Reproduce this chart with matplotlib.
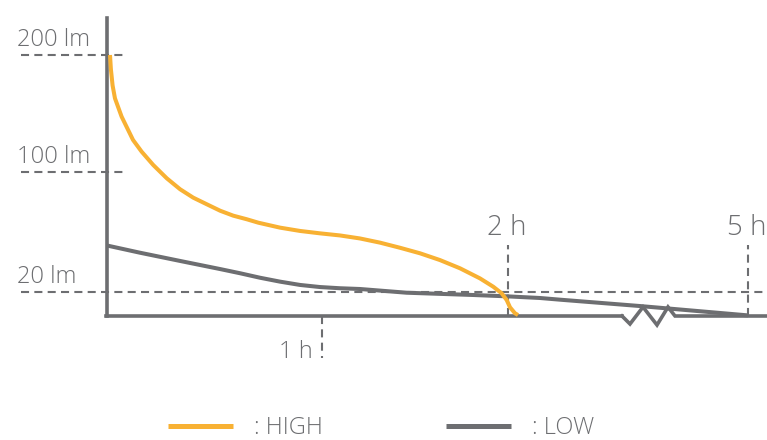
import numpy as np
import matplotlib
matplotlib.use("Agg")
import matplotlib.pyplot as plt

plt.rcParams['font.family'] = ['Open Sans', 'DejaVu Sans']
plt.rcParams['lines.scale_dashes'] = False

GREY = '#6d6e71'
ORANGE = '#f8b133'

# schematic axes: tick values and where they sit along the axis (pixels from origin)
hour_ticks = [-10, 0, 1, 2, 5, 20]
hour_pos = [-2150, 0, 215, 401, 641, 1841]
lm_ticks = [-200, 0, 20, 100, 200, 1000]
lm_pos = [-240, 0, 24, 144, 261, 1197]

# HIGH mode: hours, lumens
high_t = [0.014, 0.018, 0.026, 0.037, 0.068, 0.121, 0.161, 0.215, 0.278, 0.34, 0.401,
          0.464, 0.526, 0.587, 0.65, 0.704, 0.805, 0.898, 0.991, 1.097, 1.204,
          1.312, 1.419, 1.527, 1.634, 1.742, 1.849, 1.921, 1.966, 1.993, 2.025,
          2.0875, 2.125]
high_lm = [200, 188, 174, 163, 147.3, 127.4, 117.4, 106, 95.8, 88.5, 82.9,
           78.5, 74.2, 70.9, 68.5, 66.2, 62.9, 60.7, 59.1, 57.7, 55.7,
           52.9, 49.5, 45.8, 41.3, 35.8, 29.1, 23.5, 18.9, 13.3, 7.25,
           2.25, 0.8]

# LOW mode
low_t = [0.0, 0.153, 0.34, 0.433, 0.526, 0.619, 0.712, 0.805, 0.898, 0.991,
         1.097, 1.204, 1.455, 1.814, 1.993, 2.4, 2.65, 3.65, 5.0]
low_lm = [51, 46.2, 40.7, 38, 35.3, 32.5, 29.5, 26.9, 24.7, 23.3,
          22.5, 22, 19.4, 17.5, 16.4, 15.0, 13.6, 8.3, 0.5]

guide_lm = [200, 100, 20]
guide_h = [1, 2, 5]


def xf(v):
    return np.interp(v, hour_ticks, hour_pos)


def xi(p):
    return np.interp(p, hour_pos, hour_ticks)


def yf(v):
    return np.interp(v, lm_ticks, lm_pos)


def yi(p):
    return np.interp(p, lm_pos, lm_ticks)


W, H = 767, 440
x0, y0, aw, ah = 107, 316, 660, 298   # axes box in pixels (origin, width, height)

fig = plt.figure(figsize=(W / 100, H / 100), dpi=100)
ax = fig.add_axes([x0 / W, (H - y0) / H, aw / W, ah / H])
ax.set_xscale('function', functions=(xf, xi))
ax.set_yscale('function', functions=(yf, yi))

line_high, = ax.plot(high_t, high_lm, color=ORANGE, lw=2.9, solid_capstyle='butt',
                     solid_joinstyle='round', label=': HIGH', zorder=4, clip_on=False)
line_low, = ax.plot(low_t, low_lm, color=GREY, lw=2.9, solid_capstyle='butt',
                    solid_joinstyle='round', label=': LOW', zorder=3, clip_on=False)

ax.set_xlim(0, xi(aw))
ax.set_ylim(0, yi(ah))
ax.set_xticks([])
ax.set_yticks([])
for s in ['top', 'right', 'bottom']:
    ax.spines[s].set_visible(False)
ax.spines['left'].set_color(GREY)
ax.spines['left'].set_linewidth(2.6)
ax.patch.set_visible(False)


def px(x, y):
    # pixel position -> axes fraction
    return (np.asarray(x) - x0) / aw, (y0 - np.asarray(y)) / ah


dash = dict(color=GREY, lw=1.5, linestyle=(0, (5.8, 3.8)), clip_on=False, zorder=2)
ytr = ax.get_yaxis_transform()
xtr = ax.get_xaxis_transform()

# horizontal guides
for v in guide_lm:
    right = 1.0 if v == 20 else px(123, 0)[0]
    ax.plot([px(21, 0)[0], right], [v, v], transform=ytr, **dash)
    ax.annotate(f'{v} lm', xy=(px(17, 0)[0], v), xycoords=ytr,
                xytext=(0, 9), textcoords='offset pixels',
                ha='left', va='baseline', fontsize=17, color=GREY, fontweight='light')

# vertical guides
ax.plot([1, 1], [0, px(0, 358)[1]], transform=xtr, **dash)
ax.annotate('1 h', xy=(1, 0), xycoords=xtr, xytext=(-9, -42), textcoords='offset pixels',
            ha='right', va='baseline', fontsize=17, color=GREY, fontweight='light')
for v in guide_h[1:]:
    ax.plot([v, v], [0, px(0, 245)[1]], transform=xtr, **dash)
    ax.annotate(f'{v} h', xy=(v, 0), xycoords=xtr, xytext=(-1, 81), textcoords='offset pixels',
                ha='center', va='baseline', fontsize=20, color=GREY, fontweight='light')

# x axis with break mark
axis_kw = dict(color=GREY, lw=2.6, transform=ax.transAxes, clip_on=False, zorder=3,
               solid_joinstyle='miter')
bx, by = px([105.7, 622], [316, 316])
ax.plot(bx, by, **axis_kw)
zx, zy = px([622, 630, 643, 657, 668, 675, 767], [316, 324, 307, 325, 307, 316, 316])
ax.plot(zx, zy, **axis_kw)

leg = fig.legend(handles=[line_high, line_low], loc='center left',
                 bbox_to_anchor=(168 / W, 1 - 428 / H), ncol=2, frameon=False,
                 borderpad=0, borderaxespad=0, handlelength=2.75, handletextpad=0.9,
                 columnspacing=5.2, prop=dict(size=17, weight='light'))
for t in leg.get_texts():
    t.set_color(GREY)
for h in leg.legend_handles:
    h.set_linewidth(3.6)

fig.savefig('out.png', dpi=100)
